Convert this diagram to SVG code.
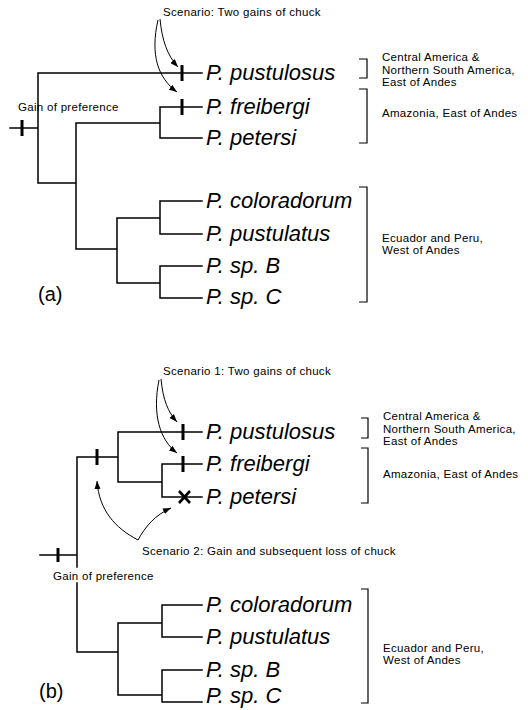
<svg xmlns="http://www.w3.org/2000/svg" width="528" height="710" viewBox="0 0 528 710">
<style>
.br{fill:none;stroke:#000;stroke-width:1.5;stroke-linecap:square}
.tk{stroke:#000;stroke-width:3}
.bk{fill:none;stroke:#000;stroke-width:1.2}
.ar{fill:none;stroke:#000;stroke-width:1}
.sp{font-family:"Liberation Sans",Arial,sans-serif;font-style:italic;font-size:22px;fill:#000}
.sm{font-family:"Liberation Sans",Arial,sans-serif;font-size:11.5px;letter-spacing:0.3px;fill:#000}
.pl{font-family:"Liberation Sans",Arial,sans-serif;font-size:20px;fill:#000}
</style>
<defs>
<marker id="ah" markerWidth="8" markerHeight="6" refX="8" refY="3" orient="auto" markerUnits="userSpaceOnUse">
<path d="M0,0 L8,3 L0,6 z" fill="#000"/>
</marker>
</defs>

<g id="connectors">
<path class="br" d="M10,128 H38 M38,73 V183 M38,73 H202 M38,183 H76 M76,123 V249 M76,123 H160 M160,107 V138 M160,107 H202 M160,138 H202 M76,249 H117 M117,218 V283 M117,218 H160 M117,283 H160 M160,201 V234 M160,201 H202 M160,234 H202 M160,266 V298 M160,266 H202 M160,298 H202"/>
<path class="br" d="M40,555 H77 M77,457 V567 M77,583 V652 M77,457 H118 M118,432 V482 M118,432 H202 M118,482 H162 M162,464 V497 M162,464 H202 M162,497 H202 M77,652 H118 M118,623 V695 M118,623 H162 M118,695 H162 M162,605 V637 M162,605 H202 M162,637 H202 M162,670 V702 M162,670 H202 M162,702 H202"/>
<path class="ar" marker-end="url(#ah)" d="M160,19 C162,40 167,55 178,67"/>
<path class="ar" marker-end="url(#ah)" d="M158,20 C150,55 158,78 177,92"/>
<path class="ar" marker-end="url(#ah)" d="M161,379 C163,400 168,412 177,422"/>
<path class="ar" marker-end="url(#ah)" d="M159,380 C152,415 160,440 177,453"/>
<path class="ar" marker-end="url(#ah)" d="M138,540 C115,528 99,510 97,481"/>
<path class="ar" marker-end="url(#ah)" d="M138,540 C145,527 155,515 171,508"/>
</g>

<g id="marks">
<line class="tk" x1="22" y1="120" x2="22" y2="136"/>
<line class="tk" x1="182" y1="65" x2="182" y2="81"/>
<line class="tk" x1="182" y1="99" x2="182" y2="115"/>
<line class="tk" x1="58" y1="548" x2="58" y2="562"/>
<line class="tk" x1="97" y1="449" x2="97" y2="465"/>
<line class="tk" x1="183" y1="424" x2="183" y2="440"/>
<line class="tk" x1="183" y1="456" x2="183" y2="472"/>
<path stroke="#000" stroke-width="2.6" d="M179,491 L190,503 M190,491 L179,503"/>
</g>

<g id="panel-a">
<text class="sm" x="163" y="16">Scenario: Two gains of chuck</text>
<text class="sm" x="18" y="111">Gain of preference</text>
<text class="pl" x="38" y="301">(a)</text>
<g id="a-pustulosus"><text class="sp" x="206" y="80">P. pustulosus</text></g>
<g id="a-freibergi"><text class="sp" x="206" y="114">P. freibergi</text></g>
<g id="a-petersi"><text class="sp" x="206" y="145">P. petersi</text></g>
<g id="a-coloradorum"><text class="sp" x="206" y="208">P. coloradorum</text></g>
<g id="a-pustulatus"><text class="sp" x="206" y="241">P. pustulatus</text></g>
<g id="a-spB"><text class="sp" x="206" y="273">P. sp. B</text></g>
<g id="a-spC"><text class="sp" x="206" y="304">P. sp. C</text></g>
<path class="bk" d="M359,59 H367 V78 H359 M359,89 H367 V143 H359 M359,187 H367 V302 H359"/>
<g id="a-region1"><text class="sm" x="382" y="61">Central America &amp;</text><text class="sm" x="382" y="73.5">Northern South America,</text><text class="sm" x="382" y="86">East of Andes</text></g>
<g id="a-region2"><text class="sm" x="382" y="117">Amazonia, East of Andes</text></g>
<g id="a-region3"><text class="sm" x="382" y="241.5">Ecuador and Peru,</text><text class="sm" x="382" y="254">West of Andes</text></g>
</g>

<g id="panel-b">
<text class="sm" x="163" y="375">Scenario 1: Two gains of chuck</text>
<text class="sm" x="142" y="555">Scenario 2: Gain and subsequent loss of chuck</text>
<text class="sm" x="53" y="580">Gain of preference</text>
<text class="pl" x="39" y="698">(b)</text>
<g id="b-pustulosus"><text class="sp" x="206" y="439">P. pustulosus</text></g>
<g id="b-freibergi"><text class="sp" x="206" y="471">P. freibergi</text></g>
<g id="b-petersi"><text class="sp" x="206" y="504">P. petersi</text></g>
<g id="b-coloradorum"><text class="sp" x="206" y="612">P. coloradorum</text></g>
<g id="b-pustulatus"><text class="sp" x="206" y="644">P. pustulatus</text></g>
<g id="b-spB"><text class="sp" x="206" y="677">P. sp. B</text></g>
<g id="b-spC"><text class="sp" x="206" y="703">P. sp. C</text></g>
<path class="bk" d="M361,418 H368 V438 H361 M361,448 H368 V503 H361 M361,589 H368 V703 H361"/>
<g id="b-region1"><text class="sm" x="383" y="420">Central America &amp;</text><text class="sm" x="383" y="432.5">Northern South America,</text><text class="sm" x="383" y="445">East of Andes</text></g>
<g id="b-region2"><text class="sm" x="383" y="478">Amazonia, East of Andes</text></g>
<g id="b-region3"><text class="sm" x="383" y="651.5">Ecuador and Peru,</text><text class="sm" x="383" y="664">West of Andes</text></g>
</g>
</svg>
